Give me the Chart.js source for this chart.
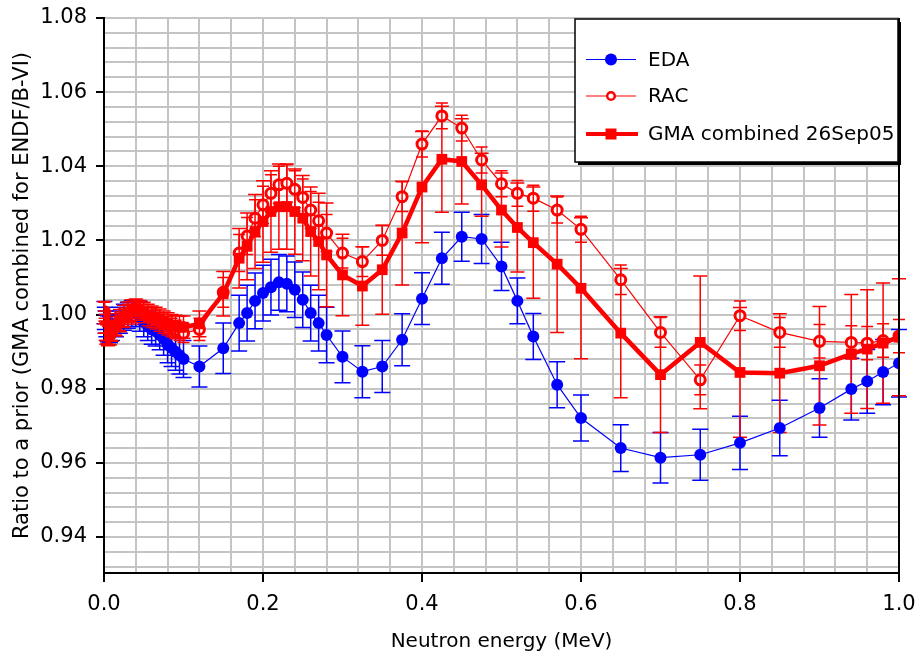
<!DOCTYPE html>
<html>
<head>
<meta charset="utf-8">
<script src="https://cdn.jsdelivr.net/npm/chart.js@4.4.1/dist/chart.umd.min.js"></script>
<style>
html,body{margin:0;padding:0;background:#fff;}
#wrap{width:916px;height:656px;position:relative;}
</style>
</head>
<body>
<div id="wrap"><canvas id="c" width="916" height="656"></canvas></div>
<script>
// ---- data ----
const energies = [0.0005,0.001,0.002,0.003,0.005,0.0075,0.01,0.015,0.02,0.025,0.03,0.035,0.04,0.045,0.05,0.055,0.06,0.065,0.07,0.075,0.08,0.085,0.09,0.095,0.1,0.12,0.15,0.17,0.18,0.19,0.2,0.21,0.22,0.23,0.24,0.25,0.26,0.27,0.28,0.3,0.325,0.35,0.375,0.4,0.425,0.45,0.475,0.5,0.52,0.54,0.57,0.6,0.65,0.7,0.75,0.8,0.85,0.9,0.94,0.96,0.98,1.0];

const edaValues = [1.0005,0.999,0.998,0.997,0.9962,0.996,0.9965,0.9975,0.9985,0.9993,0.9998,1.0003,1.0003,0.9995,0.998,0.997,0.996,0.9955,0.9945,0.9935,0.992,0.991,0.990,0.989,0.988,0.986,0.9909,0.9977,1.0004,1.0037,1.0058,1.0074,1.0087,1.0083,1.0067,1.004,1.0004,0.9977,0.9945,0.9886,0.9846,0.986,0.9932,1.0043,1.0152,1.021,1.0204,1.013,1.0037,0.9941,0.9811,0.9721,0.964,0.9614,0.9622,0.9654,0.9694,0.9748,0.9799,0.982,0.9845,0.9869];
const edaErrors = [0.003,0.003,0.003,0.003,0.0035,0.0035,0.0035,0.0035,0.0035,0.0035,0.0035,0.0035,0.0035,0.004,0.004,0.004,0.004,0.004,0.004,0.0045,0.005,0.005,0.005,0.005,0.005,0.0055,0.0068,0.0075,0.0075,0.0075,0.0075,0.0075,0.0075,0.0075,0.0075,0.0075,0.0075,0.0075,0.0075,0.007,0.007,0.007,0.007,0.007,0.007,0.0066,0.0066,0.0065,0.0062,0.0062,0.0062,0.0062,0.0063,0.0068,0.0069,0.0072,0.0075,0.0079,0.0083,0.0086,0.0088,0.0091];

const racValues = [1.0008,0.9975,0.9955,0.9947,0.9943,0.9945,0.9955,0.997,0.9982,0.9993,1.0003,1.001,1.0015,1.001,1.0003,0.9995,0.999,0.9986,0.998,0.9975,0.997,0.9965,0.996,0.9955,0.995,0.996,1.006,1.0166,1.0212,1.026,1.0296,1.0327,1.035,1.0354,1.0338,1.0316,1.0282,1.0253,1.022,1.0166,1.0143,1.02,1.0318,1.046,1.0536,1.0503,1.0417,1.0353,1.0327,1.0314,1.0282,1.023,1.0094,0.9952,0.9824,0.9997,0.9952,0.9928,0.9925,0.9923,0.993,0.9942];
const racErrors = [0.0025,0.0025,0.0025,0.0025,0.0025,0.0025,0.0025,0.0025,0.0025,0.0025,0.0025,0.0025,0.0025,0.0025,0.0025,0.0025,0.0025,0.0025,0.0025,0.0025,0.0025,0.0025,0.0025,0.0025,0.0025,0.003,0.004,0.005,0.005,0.005,0.005,0.005,0.005,0.005,0.005,0.005,0.005,0.005,0.005,0.004,0.004,0.004,0.004,0.0035,0.0035,0.0035,0.0035,0.0035,0.0035,0.0035,0.0035,0.0035,0.004,0.004,0.004,0.004,0.004,0.0045,0.0045,0.0045,0.0045,0.0045];

const gmaValues = [1.0005,0.998,0.996,0.995,0.9946,0.9948,0.9958,0.9972,0.9984,0.9995,1.0004,1.001,1.0012,1.0008,1.0003,0.9998,0.9993,0.999,0.9985,0.998,0.9975,0.997,0.9968,0.9966,0.9966,0.9975,1.0056,1.0152,1.0184,1.0224,1.0251,1.0278,1.0291,1.0291,1.0278,1.026,1.0224,1.0197,1.0161,1.0107,1.0077,1.0121,1.022,1.0344,1.0419,1.0413,1.035,1.0282,1.0235,1.0194,1.0136,1.0071,0.995,0.9838,0.9925,0.9844,0.9842,0.9862,0.9894,0.9907,0.9923,0.9939];
const gmaErrors = [0.003,0.003,0.003,0.003,0.003,0.003,0.003,0.003,0.003,0.003,0.003,0.003,0.003,0.003,0.003,0.003,0.003,0.003,0.003,0.003,0.003,0.003,0.003,0.003,0.003,0.0035,0.006,0.008,0.009,0.01,0.011,0.011,0.0115,0.0115,0.0115,0.0115,0.012,0.013,0.014,0.011,0.0106,0.012,0.014,0.015,0.0143,0.0115,0.0085,0.01,0.012,0.015,0.0184,0.019,0.0174,0.0156,0.0179,0.0175,0.016,0.016,0.016,0.016,0.0162,0.0158];

const seriesNames = ['EDA', 'RAC', 'GMA combined 26Sep05'];
const xTickLabels = ['0.0','0.2','0.4','0.6','0.8','1.0'];
const yTickLabels = ['0.94','0.96','0.98','1.00','1.02','1.04','1.06','1.08'];
const xTitle = 'Neutron energy (MeV)';
const yTitle = 'Ratio to a prior (GMA combined for ENDF/B-VI)';

// ---- layout helpers ----
const FONT = 'DejaVu Sans';
const xMajor = xTickLabels.map(parseFloat);
const yMajor = yTickLabels.map(parseFloat);
function gridValues(start, end, step) {
  const out = []; const n = Math.round((end - start) / step);
  for (let i = 0; i <= n; i++) out.push(+(start + i * step).toFixed(4));
  return out;
}
const xGrid = gridValues(0, 1, 0.04);
const yGrid = gridValues(0.932, 1.08, 0.004);
const majorIndex = (majors, v) => majors.findIndex(m => Math.abs(m - v) < 1e-6);

function pts(vals) { return energies.map((e, i) => ({x: e, y: vals[i]})); }

const errorSets = [
  {name: 'EDA', vals: edaValues, errs: edaErrors, color: '#0000ff', cap: 8, width: 1.5, late: false},
  {name: 'GMA', vals: gmaValues, errs: gmaErrors, color: '#ff0000', cap: 7, width: 1.5, late: false},
  {name: 'RAC', vals: racValues, errs: racErrors, color: '#ff0000', cap: 6, width: 1.5, late: true}
];
function drawBars(chart, late) {
  const {ctx, scales: {x, y}, chartArea} = chart;
  ctx.save();
  ctx.beginPath();
  ctx.rect(chartArea.left - 10, chartArea.top - 2, chartArea.right - chartArea.left + 20, chartArea.bottom - chartArea.top + 4);
  ctx.clip();
  errorSets.filter(s => s.late === late).forEach(s => {
    ctx.strokeStyle = s.color; ctx.lineWidth = s.width;
    energies.forEach((e, i) => {
      const px = x.getPixelForValue(e);
      const yt = y.getPixelForValue(s.vals[i] + s.errs[i]);
      const yb = y.getPixelForValue(s.vals[i] - s.errs[i]);
      ctx.beginPath();
      ctx.moveTo(px, yt); ctx.lineTo(px, yb);
      ctx.moveTo(px - s.cap, yt); ctx.lineTo(px + s.cap, yt);
      ctx.moveTo(px - s.cap, yb); ctx.lineTo(px + s.cap, yb);
      ctx.stroke();
    });
  });
  ctx.restore();
}

const decorPlugin = {
  id: 'decor',
  beforeDraw(chart) {
    const {ctx} = chart;
    ctx.save(); ctx.fillStyle = '#fff'; ctx.fillRect(0, 0, chart.width, chart.height); ctx.restore();
  },
  beforeDatasetsDraw(chart) { drawBars(chart, false); },
  afterDatasetsDraw(chart) { drawBars(chart, true); },
  afterDraw(chart) {
    const {ctx, chartArea} = chart;
    ctx.save();
    // right frame line
    ctx.strokeStyle = '#000'; ctx.lineWidth = 2;
    ctx.beginPath(); ctx.moveTo(chartArea.right, chartArea.top); ctx.lineTo(chartArea.right, chartArea.bottom); ctx.stroke();
    // legend box
    const bx = 575, by = 19, bw = 323, bh = 143;
    ctx.fillStyle = '#000'; ctx.fillRect(bx + 3, by + 3, bw, bh);
    ctx.fillStyle = '#fff'; ctx.fillRect(bx, by, bw, bh);
    ctx.strokeStyle = '#000'; ctx.lineWidth = 1.5; ctx.strokeRect(bx, by, bw, bh);
    const rows = [59.5, 96, 134];
    const x1 = 586, x2 = 636, mx = 611;
    // EDA
    ctx.strokeStyle = '#0000ff'; ctx.lineWidth = 1.2;
    ctx.beginPath(); ctx.moveTo(x1, rows[0]); ctx.lineTo(x2, rows[0]); ctx.stroke();
    ctx.fillStyle = '#0000ff'; ctx.beginPath(); ctx.arc(mx, rows[0], 6, 0, Math.PI * 2); ctx.fill();
    // RAC
    ctx.strokeStyle = '#ff0000'; ctx.lineWidth = 1.2;
    ctx.beginPath(); ctx.moveTo(x1, rows[1]); ctx.lineTo(x2, rows[1]); ctx.stroke();
    ctx.fillStyle = '#fff'; ctx.lineWidth = 2.5; ctx.beginPath(); ctx.arc(mx, rows[1], 3.8, 0, Math.PI * 2); ctx.fill(); ctx.stroke();
    // GMA
    ctx.strokeStyle = '#ff0000'; ctx.lineWidth = 4;
    ctx.beginPath(); ctx.moveTo(x1, rows[2]); ctx.lineTo(x2 + 2, rows[2]); ctx.stroke();
    ctx.fillStyle = '#ff0000'; ctx.fillRect(mx - 5.5, rows[2] - 5.5, 11, 11);
    // texts
    ctx.fillStyle = '#000'; ctx.font = '20px "' + FONT + '"'; ctx.textBaseline = 'middle'; ctx.textAlign = 'left';
    seriesNames.forEach((n, i) => ctx.fillText(n, 648, rows[i] + 1));
    ctx.restore();
  }
};

const tickFont = {family: FONT, size: 21};

new Chart(document.getElementById('c'), {
  type: 'line',
  data: {
    datasets: [
      {label: seriesNames[2], data: pts(gmaValues), borderColor: '#ff0000', borderWidth: 4.5,
       pointStyle: 'rect', pointRadius: 7.6, pointBackgroundColor: '#ff0000', pointBorderWidth: 0, tension: 0},
      {label: seriesNames[1], data: pts(racValues), borderColor: '#ff0000', borderWidth: 1.2,
       pointStyle: 'circle', pointRadius: 5, pointBackgroundColor: '#ffffff', pointBorderColor: '#ff0000', pointBorderWidth: 3, tension: 0},
      {label: seriesNames[0], data: pts(edaValues), borderColor: '#0000ff', borderWidth: 1.2,
       pointStyle: 'circle', pointRadius: 6, pointBackgroundColor: '#0000ff', pointBorderWidth: 0, tension: 0}
    ]
  },
  options: {
    responsive: false, animation: false, devicePixelRatio: 1,
    layout: {padding: {left: 0, right: 17, top: 18, bottom: 0}},
    plugins: {legend: {display: false}, tooltip: {enabled: false}},
    scales: {
      x: {
        type: 'linear', min: 0, max: 1,
        afterBuildTicks: s => { s.ticks = xGrid.map(v => ({value: v})); },
        afterFit: s => { s.height = 83; s.paddingLeft = 0; s.paddingRight = 0; },
        ticks: {autoSkip: false, maxRotation: 0, minRotation: 0, padding: 10, color: '#000', font: tickFont,
          callback: v => { const i = majorIndex(xMajor, v); return i >= 0 ? xTickLabels[i] : ''; }},
        grid: {color: '#c4c4c4', lineWidth: 2, tickLength: 9, tickWidth: 2,
          tickColor: c => majorIndex(xMajor, c.tick.value) >= 0 ? '#000' : 'rgba(0,0,0,0)'},
        border: {display: true, color: '#000', width: 2},
        title: {display: true, text: xTitle, color: '#000', font: {family: FONT, size: 20}, padding: {top: 0, bottom: 2}}
      },
      y: {
        type: 'linear', min: 0.9303, max: 1.08,
        afterBuildTicks: s => { s.ticks = yGrid.map(v => ({value: v})); },
        afterFit: s => { s.width = 104; s.paddingTop = 0; s.paddingBottom = 0; },
        ticks: {autoSkip: false, padding: 9, color: '#000', font: tickFont,
          callback: v => { const i = majorIndex(yMajor, v); return i >= 0 ? yTickLabels[i] : ''; }},
        grid: {color: '#c4c4c4', lineWidth: 2, tickLength: 8, tickWidth: 2,
          tickColor: c => majorIndex(yMajor, c.tick.value) >= 0 ? '#000' : 'rgba(0,0,0,0)'},
        border: {display: true, color: '#000', width: 2},
        title: {display: true, text: yTitle, color: '#000', font: {family: FONT, size: 21}, padding: {top: 10, bottom: 0}}
      }
    }
  },
  plugins: [decorPlugin]
});
</script>
</body>
</html>
